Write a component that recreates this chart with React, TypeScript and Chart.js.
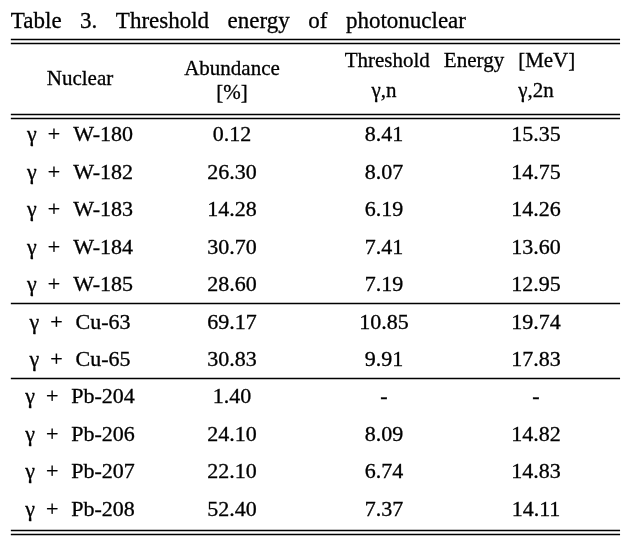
import React, { useEffect, useRef } from "react";
import { Chart, registerables } from "chart.js";

Chart.register(...registerables);

const titleWords = ["Table", "3.", "Threshold", "energy", "of", "photonuclear"];
const probe = "γ";
const nuclides = ["W-180", "W-182", "W-183", "W-184", "W-185", "Cu-63", "Cu-65", "Pb-204", "Pb-206", "Pb-207", "Pb-208"];
const abundance = [0.12, 26.3, 14.28, 30.7, 28.6, 69.17, 30.83, 1.4, 24.1, 22.1, 52.4];
const thresholdGN = [8.41, 8.07, 6.19, 7.41, 7.19, 10.85, 9.91, null, 8.09, 6.74, 7.37];
const threshold2N = [15.35, 14.75, 14.26, 13.6, 12.95, 19.74, 17.83, null, 14.82, 14.83, 14.11];
const groupBreaks = [5, 7];
const headerNuclear = "Nuclear";
const headerAbundance = ["Abundance", "[%]"];
const headerThreshold = ["Threshold", "Energy", "[MeV]"];
const headerSub = ["γ,n", "γ,2n"];

const FONT = '"Liberation Serif", "Times New Roman", serif';
const INK = "#000";

function fmt(v: number | null) {
  return v === null ? "-" : v.toFixed(2);
}

const tablePlugin = {
  id: "tablePlugin",
  afterDraw(chart: any) {
    const ctx: CanvasRenderingContext2D = chart.ctx;
    const xs = chart.scales.x;
    const ys = chart.scales.y;
    const X = (v: number) => xs.getPixelForValue(v);
    const Y = (v: number) => ys.getPixelForValue(v);
    const left = X(-0.455);
    const right = X(3.553);

    const text = (t: string, x: number, cy: number, align: CanvasTextAlign, size: number, sx: number) => {
      ctx.save();
      ctx.font = `${size}px ${FONT}`;
      ctx.fillStyle = INK;
      ctx.strokeStyle = INK;
      ctx.lineWidth = 0.3;
      ctx.textBaseline = "alphabetic";
      ctx.textAlign = align;
      ctx.translate(x, cy + size * 0.34);
      ctx.scale(sx, 1);
      ctx.fillText(t, 0, 0);
      ctx.strokeText(t, 0, 0);
      ctx.restore();
    };
    const width = (t: string, size: number, sx: number) => {
      ctx.save();
      ctx.font = `${size}px ${FONT}`;
      const w = ctx.measureText(t).width * sx;
      ctx.restore();
      return w;
    };
    const hline = (v: number) => {
      const y = Math.round(Y(v)) + 0.5;
      ctx.save();
      ctx.strokeStyle = INK;
      ctx.lineWidth = 1.5;
      ctx.beginPath();
      ctx.moveTo(left, y);
      ctx.lineTo(right, y);
      ctx.stroke();
      ctx.restore();
    };

    // title
    const tSize = 23;
    const tGap = 18.5;
    let tx = left;
    titleWords.forEach((w) => {
      text(w, tx, Y(-3.06), "left", tSize, 1);
      tx += width(w, tSize, 1) + tGap;
    });

    // rules
    hline(-2.55);
    hline(-2.44);
    hline(-0.55);
    hline(-0.44);
    groupBreaks.forEach((b) => hline(b - 0.5));
    hline(nuclides.length - 0.45);
    hline(nuclides.length - 0.34);

    // header
    const hSize = 21;
    text(headerNuclear, X(0), Y(-1.5), "center", hSize, 1);
    text(headerAbundance[0], X(1), Y(-1.79), "center", hSize, 1);
    text(headerAbundance[1], X(1), Y(-1.15), "center", hSize, 1);
    const thGap = 14;
    const thW = headerThreshold.reduce((s, w) => s + width(w, hSize, 1), 0) + thGap * (headerThreshold.length - 1);
    let hx = X(2.5) - thW / 2;
    headerThreshold.forEach((w) => {
      text(w, hx, Y(-2.0), "left", hSize, 1);
      hx += width(w, hSize, 1) + thGap;
    });
    text(headerSub[0], X(2), Y(-1.2), "center", hSize, 1);
    text(headerSub[1], X(3), Y(-1.2), "center", hSize, 1);

    // body
    const bSize = 20;
    const sx = 1.1;
    nuclides.forEach((n, i) => {
      const cy = Y(i);
      const parts = [probe, "+", n];
      const gaps = [11, 13];
      const total = parts.reduce((s, p) => s + width(p, bSize, sx), 0) + gaps[0] + gaps[1];
      let px = X(0) - total / 2;
      parts.forEach((p, k) => {
        text(p, px, cy, "left", bSize, sx);
        px += width(p, bSize, sx) + (gaps[k] || 0);
      });
      text(fmt(abundance[i]), X(1), cy, "center", bSize, sx);
      text(fmt(thresholdGN[i]), X(2), cy, "center", bSize, sx);
      text(fmt(threshold2N[i]), X(3), cy, "center", bSize, sx);
    });
  },
};

export default function App() {
  const ref = useRef<HTMLCanvasElement | null>(null);
  useEffect(() => {
    document.body.style.margin = "0";
    const canvas = ref.current;
    if (!canvas) return;
    const chart = new Chart(canvas, {
      type: "scatter",
      data: { datasets: [] },
      options: {
        animation: false,
        responsive: false,
        devicePixelRatio: 1,
        layout: { padding: { left: 4, right: 20, top: 3.4, bottom: 14.3 } },
        plugins: { legend: { display: false }, tooltip: { enabled: false }, title: { display: false } },
        scales: {
          x: { type: "linear", min: -0.5, max: 3.5, display: false },
          y: { type: "linear", min: -3.5, max: 10.5, reverse: true, display: false },
        },
      },
      plugins: [tablePlugin],
    });
    return () => chart.destroy();
  }, []);
  return (
    <div style={{ width: 632, height: 542, background: "#fff" }}>
      <canvas ref={ref} width={632} height={542} style={{ display: "block" }} />
    </div>
  );
}
